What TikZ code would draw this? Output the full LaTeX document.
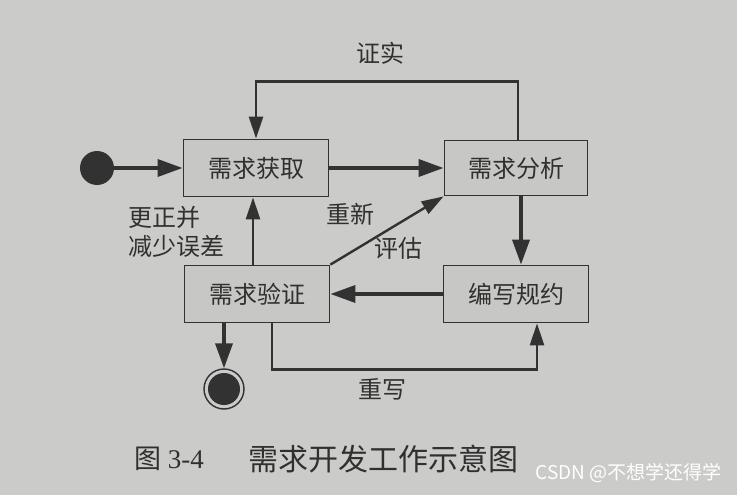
\documentclass[tikz,border=0pt]{standalone}
\usepackage{fontspec}
\setmainfont{Liberation Serif}
\newfontfamily\cjk{Noto Sans CJK SC}
\usetikzlibrary{arrows.meta,calc}
\definecolor{paper}{RGB}{203,203,201}
\definecolor{boxfill}{RGB}{199,199,197}
\definecolor{ink}{RGB}{50,50,50}
\definecolor{txt}{RGB}{48,48,48}
\tikzset{
  state/.style={draw=ink, line width=1.8pt, fill=boxfill, minimum width=145pt, minimum height=57pt, inner sep=0pt,
    font=\cjk\fontsize{24}{26}\selectfont, text=txt},
  lbl/.style={font=\cjk\fontsize{24}{29}\selectfont, text=txt, inner sep=0pt},
  heavy/.style={draw=ink, line width=3.6pt, -{Triangle[length=25pt,width=17pt]}},
  light/.style={draw=ink, line width=2.4pt, -{Triangle[length=22pt,width=14pt]}},
}
\begin{document}
\begin{tikzpicture}[x=1pt,y=-1pt]
\useasboundingbox (0,0) rectangle (737,495);
\fill[paper] (0,0) rectangle (737,495);

\node[state] (acq) at (256,168) {需求获取};
\node[state, minimum width=143pt, minimum height=55pt] (ana) at (516,168) {需求分析};
\node[state] (ver) at (257,294) {需求验证};
\node[state] (spec) at (516,294) {编写规约};

\node[circle, fill=ink, minimum size=34pt, inner sep=0pt] (start) at (97,168) {};
\node[circle, draw=ink, line width=1.4pt, minimum size=40pt, inner sep=0pt] (end) at (224,389) {};
\node[circle, fill=ink, minimum size=32pt, inner sep=0pt] (endin) at (224,389) {};

% transitions
\draw[heavy] (start) -- (acq.west);
\draw[heavy] (acq.east) -- (ana.west);
\draw[heavy] ([xshift=5pt]ana.south) -- ([xshift=5pt]spec.north);
\draw[heavy] (spec.west) -- (ver.east);
\draw[heavy] (ver.south -| end) -- (end.north);
\draw[light] ([xshift=-4pt]ver.north) -- ([xshift=-3pt]acq.south);
\draw[light] (ver.north east) -- (ana.south west);
\draw[light] ([xshift=2pt]ana.north) -- ++(0,-58) -| (acq.north);
\draw[light] ([xshift=15pt]ver.south) -- ++(0,46) -| ([xshift=21pt]spec.south);

% labels
\node[lbl] (l1) at (380,53) {证实};
\node[lbl, anchor=west, align=left] (l2) at (128,232) {更正并\\减少误差};
\node[lbl] (l3) at (350,214) {重新};
\node[lbl] (l4) at (398,248) {评估};
\node[lbl] (l5) at (382,389) {重写};

% caption
\node[anchor=west, inner sep=0pt, text=txt, font=\fontsize{27}{30}\selectfont] (cap1) at (134,459) {{\cjk 图} 3-4};
\node[anchor=west, inner sep=0pt, text=txt, font=\cjk\fontsize{30}{32}\selectfont] (cap2) at (248,459) {需求开发工作示意图};
\node[anchor=east, inner sep=0pt, text=white, font=\cjk\fontsize{19}{21}\selectfont] (wm) at (722,473) {CSDN @不想学还得学};
\end{tikzpicture}
\end{document}
